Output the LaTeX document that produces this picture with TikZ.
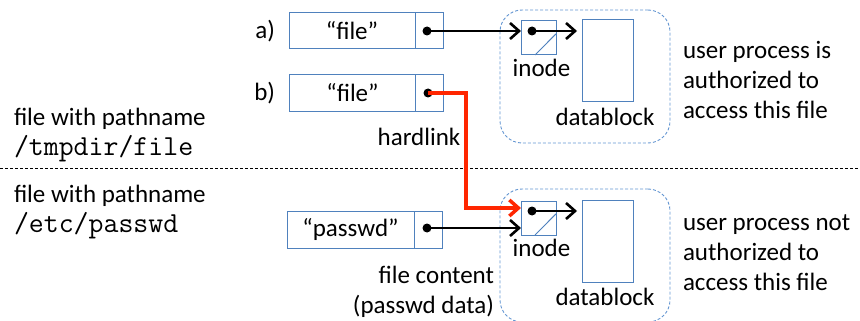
\documentclass[tikz,border=0pt]{standalone}
\usepackage{fontspec}
\setmainfont{Carlito}
\usetikzlibrary{arrows.meta,calc}
\definecolor{boxblue}{RGB}{79,129,189}
\definecolor{grpblue}{RGB}{100,150,210}
\definecolor{linkred}{RGB}{255,38,0}
\newcommand{\pathtext}[1]{{\fontsize{29}{30}\selectfont\ttfamily #1}}
\begin{document}
\begin{tikzpicture}[x=1pt,y=-1pt,
  font=\fontsize{25}{30}\selectfont,
  namebox/.style={draw=boxblue, line width=1pt, minimum width=126pt, minimum height=36pt, inner sep=0pt, outer sep=0pt},
  ptrbox/.style={draw=boxblue, line width=1pt, minimum width=28pt, minimum height=36pt, inner sep=0pt, outer sep=0pt},
  ptrdot/.style={circle, fill=black, inner sep=0pt, minimum size=9pt},
  inodebox/.style={draw=boxblue, line width=1pt, minimum width=35pt, minimum height=34pt, inner sep=0pt, outer sep=0pt},
  blockbox/.style={draw=boxblue, line width=1pt, minimum width=51pt, minimum height=82pt, inner sep=0pt, outer sep=0pt},
  group/.style={draw=grpblue, dash pattern=on 3pt off 2pt, line width=0.9pt, rounded corners=22pt, minimum width=170pt, minimum height=133pt, inner sep=0pt},
  ptrarrow/.style={line width=1.3pt, -{Straight Barb[length=9pt,width=16pt,line width=2.6pt]}},
  linkarrow/.style={draw=linkred, line width=3.5pt, -{Straight Barb[length=9pt,width=16pt,line width=3.5pt]}},
  lbl/.style={inner sep=0pt, outer sep=0pt},
  diag/.style={draw=boxblue, line width=1pt}
]
\useasboundingbox (0,0) rectangle (860,321);
\clip (0,0) rectangle (860,321);

% separator between the two files
\draw[dash pattern=on 3pt off 2pt, line width=0.8pt] (0,168) -- (860,168);

% left captions
\node[lbl, anchor=base west, align=left] (capTmp) at (14,155) {file with pathname\\\pathtext{/tmpdir/file}};
\node[lbl, anchor=base west, align=left] (capEtc) at (14,232) {file with pathname\\\pathtext{/etc/passwd}};

% directory entries
\node[namebox] (aName) at (352,31) {“file”};
\node[ptrbox, anchor=west] (aPtr) at (aName.east) {};
\node[lbl, anchor=base east] (aLbl) at (275,39) {a)};

\node[namebox] (bName) at (352.5,93) {“file”};
\node[ptrbox, anchor=west] (bPtr) at (bName.east) {};
\node[lbl, anchor=base east] (bLbl) at (275,101) {b)};

\node[namebox, minimum height=37pt, minimum width=127pt] (cName) at (350.5,229.5) {“passwd”};
\node[ptrbox, minimum height=37pt, anchor=west] (cPtr) at (cName.east) {};

\node[ptrdot] (dA) at (427,31) {};
\node[ptrdot] (dB) at (428,93) {};
\node[ptrdot] (dC) at (427,228) {};

% file-system objects: /tmpdir/file
\node[group] (grpTop) at (585,76.5) {};
\node[inodebox] (inA) at (538.5,38) {};
\node[blockbox] (blkA) at (607.5,61) {};
\draw[diag] ($(inA.south west)!0.4!(inA.south east)$) -- ($(inA.north east)!0.38!(inA.south east)$);
\node[ptrdot] (iA) at (532,31) {};
\node[lbl, anchor=base] (inLblA) at (541.5,77) {inode};
\node[lbl, anchor=base] (blkLblA) at (605,125) {datablock};

% file-system objects: /etc/passwd
\node[group] (grpBot) at (585,255.5) {};
\node[inodebox] (inC) at (538.5,218) {};
\node[blockbox] (blkC) at (607.5,241) {};
\draw[diag] ($(inC.south west)!0.4!(inC.south east)$) -- ($(inC.north east)!0.38!(inC.south east)$);
\node[ptrdot] (iC) at (532,211) {};
\node[lbl, anchor=base] (inLblC) at (541.5,256) {inode};
\node[lbl, anchor=base] (blkLblC) at (605,305) {datablock};

% pointers
\draw[ptrarrow] (dA.center) -- (dA -| inA.west);
\draw[ptrarrow, shorten >=5pt] (iA.center) -- (iA -| blkA.west);
\draw[ptrarrow] (dC.center) -- (dC -| inC.west);
\draw[ptrarrow, shorten >=5pt] (iC.center) -- (iC -| blkC.west);

% hard link
\coordinate (hlBend) at (466,208);
\draw[linkarrow] (dB.center) -| (hlBend) -- (hlBend -| inC.west);
\node[lbl, anchor=base] (hlLbl) at (419,145) {hardlink};

\node[lbl, anchor=base east, align=right] (content) at (494,313) {file content\\(passwd data)};

% access notes
\node[lbl, anchor=base west, align=left] (noteTop) at (683,118) {user process is\\authorized to\\access this file};
\node[lbl, anchor=base west, align=left] (noteBot) at (683,290) {user process not\\authorized to\\access this file};
\end{tikzpicture}
\end{document}
